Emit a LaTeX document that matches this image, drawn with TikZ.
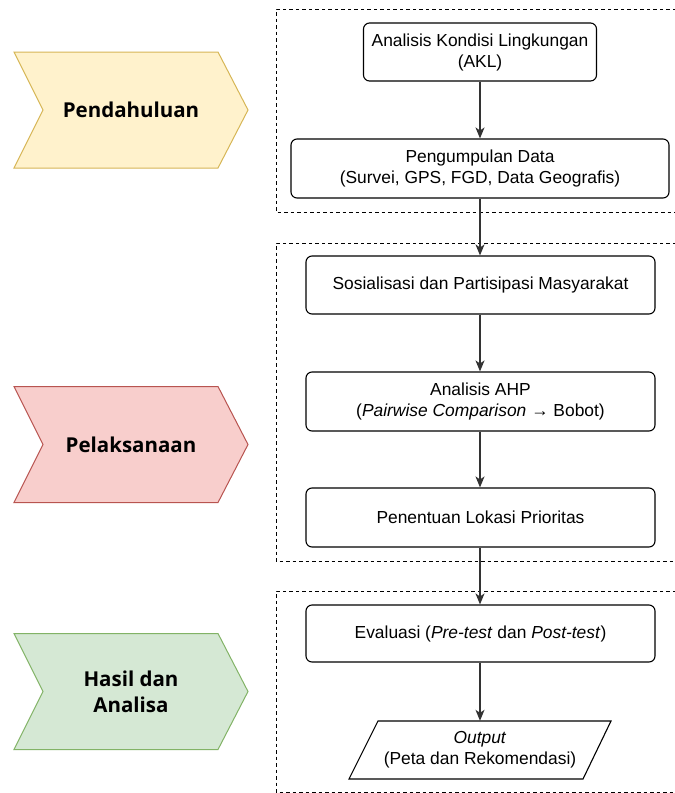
\documentclass[tikz,border=0pt]{standalone}
\usepackage{fontspec}
\setmainfont{Liberation Sans}
\newfontfamily\phasefont{Open Sans}
\usetikzlibrary{arrows.meta}
\definecolor{yelfill}{HTML}{FFF2CC}\definecolor{yelline}{HTML}{D6B656}
\definecolor{redfill}{HTML}{F8CECC}\definecolor{redline}{HTML}{B85450}
\definecolor{grnfill}{HTML}{D5E8D4}\definecolor{grnline}{HTML}{82B366}
\definecolor{conncol}{HTML}{333333}
\begin{document}
\begin{tikzpicture}[x=1pt,y=-1pt,
  stepbox/.style={draw=black, line width=1.1pt, rounded corners=6pt, align=center,
    font=\fontsize{17.4}{21}\selectfont, inner sep=0pt, minimum height=58pt},
  phaselabel/.style={align=center, font=\phasefont\bfseries\fontsize{20.5}{26}\selectfont, inner sep=0pt},
  groupframe/.style={draw=black, line width=1pt, dash pattern=on 3.5pt off 3pt},
  conn/.style={draw=conncol, line width=1.3pt, -{Stealth[length=11pt,width=9pt,inset=3pt]}},
  outtext/.style={align=center, font=\fontsize{17.4}{21}\selectfont, inner sep=0pt, minimum height=58pt, minimum width=200pt}
]
\useasboundingbox (0,0) rectangle (675,793);

% dashed group frames (open on the right side, beyond the picture edge)
\draw[groupframe] (676,9) -- (276,9) -- (276,212) -- (676,212);
\draw[groupframe] (676,243) -- (276,243) -- (276,561) -- (676,561);
\draw[groupframe] (676,591) -- (276,591) -- (276,792) -- (676,792);

% phase chevrons
\filldraw[fill=yelfill, draw=yelline, line width=1pt]
  (14,52) -- (218,52) -- (248,110) -- (218,168) -- (14,168) -- (43,110) -- cycle;
\node[phaselabel] (p1) at (131,110) {Pendahuluan};
\filldraw[fill=redfill, draw=redline, line width=1pt]
  (14,386.5) -- (218,386.5) -- (248,444.5) -- (218,502.5) -- (14,502.5) -- (43,444.5) -- cycle;
\node[phaselabel] (p2) at (131,444.5) {Pelaksanaan};
\filldraw[fill=grnfill, draw=grnline, line width=1pt]
  (14,633.5) -- (218,633.5) -- (248,691.5) -- (218,749.5) -- (14,749.5) -- (43,691.5) -- cycle;
\node[phaselabel] (p3) at (131,691.5) {Hasil dan\\Analisa};

% process steps
\node[stepbox, minimum width=233pt] (akl) at (480,52) {Analisis Kondisi Lingkungan\\(AKL)};
\node[stepbox, minimum width=378pt, minimum height=59pt] (pd) at (480,168.5) {Pengumpulan Data\\(Survei, GPS, FGD, Data Geografis)};
\node[stepbox, minimum width=349pt] (sos) at (480.5,285) {Sosialisasi dan Partisipasi Masyarakat};
\node[stepbox, minimum width=349pt, minimum height=59pt] (ahp) at (480.5,401.5) {Analisis AHP\\(\textit{Pairwise Comparison} → Bobot)};
\node[stepbox, minimum width=349pt, minimum height=59pt] (pen) at (480.5,517.5) {Penentuan Lokasi Prioritas};
\node[stepbox, minimum width=349pt, minimum height=57pt] (eva) at (480.5,633.5) {Evaluasi (\textit{Pre-test} dan \textit{Post-test})};

% output parallelogram
\draw[line width=1.1pt] (378,721) -- (611,721) -- (583,779) -- (349,779) -- cycle;
\node[outtext] (out) at (480,750) {\textit{Output}\\(Peta dan Rekomendasi)};

% connectors
\draw[conn] (akl.south) -- (pd.north);
\draw[conn] (pd.south) -- (sos.north -| pd.south);
\draw[conn] (sos.south -| pd.south) -- (ahp.north -| pd.south);
\draw[conn] (ahp.south -| pd.south) -- (pen.north -| pd.south);
\draw[conn] (pen.south -| pd.south) -- (eva.north -| pd.south);
\draw[conn] (eva.south -| pd.south) -- (out.north -| pd.south);
\end{tikzpicture}
\end{document}
